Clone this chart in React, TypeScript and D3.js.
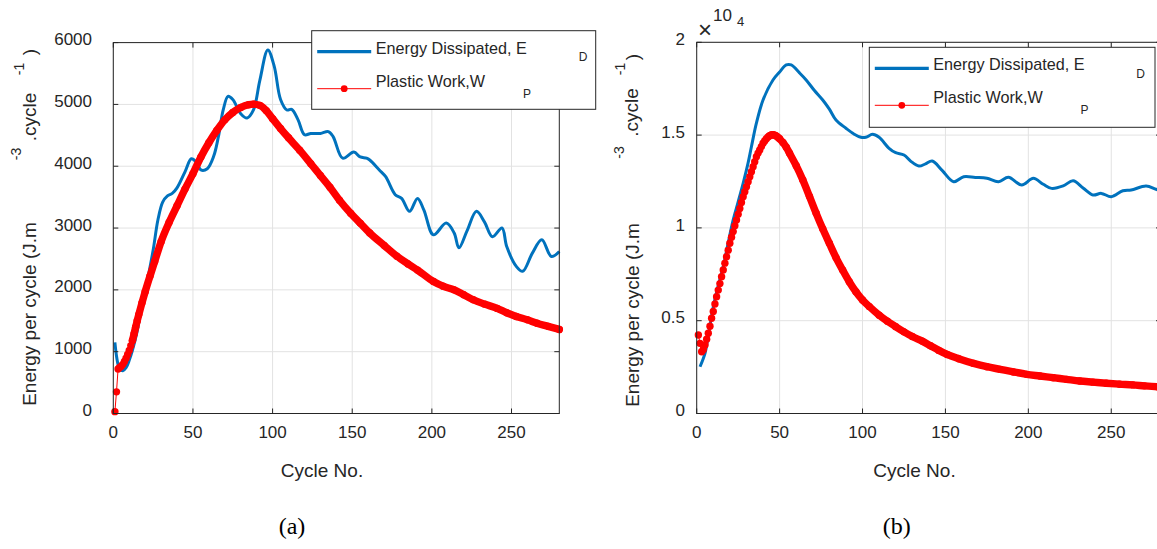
import React from "react";
import * as d3 from "d3";

type Pt = [number, number];

// ---------- data ----------
const cycleTicks = [0, 50, 100, 150, 200, 250];
const yTicksA = [0, 1000, 2000, 3000, 4000, 5000, 6000];
const yTickLabelsA = ["0", "1000", "2000", "3000", "4000", "5000", "6000"];
const yTicksB = [0, 5000, 10000, 15000, 20000];
const yTickLabelsB = ["0", "0.5", "1", "1.5", "2"];

const energyA: Pt[] = [
  [1, 1150], [2, 930], [3, 790], [4, 720], [6, 690], [8, 740], [10, 860], [12, 1020],
  [15, 1330], [17, 1620], [21, 2100], [25, 2640], [28, 3130], [31, 3420], [34, 3520],
  [37, 3560], [40, 3650], [45, 3910], [49, 4120], [52, 4070], [55, 3940], [59, 3960],
  [63, 4160], [66, 4480], [69, 4910], [72, 5130], [75, 5080], [80, 4850], [84, 4780],
  [88, 4910], [92, 5390], [97, 5880], [101, 5620], [105, 5080], [109, 4910], [112, 4920],
  [116, 4750], [120, 4510], [124, 4530], [130, 4530], [135, 4560], [138, 4480],
  [144, 4130], [151, 4230], [155, 4150], [159, 4130], [161, 4100], [167, 3940],
  [171, 3830], [177, 3540], [181, 3480], [186, 3270], [191, 3480], [195, 3290],
  [201, 2890], [209, 3080], [214, 2920], [217, 2680], [222, 2950], [228, 3270], [233, 3100],
  [238, 2860], [244, 3000], [247, 2700], [253, 2380], [257, 2300], [263, 2590],
  [269, 2810], [275, 2540], [280, 2620],
];

const plasticA: Pt[] = [
  [1, 30], [2, 350], [3, 720], [4, 745], [5, 765], [6, 795], [7, 840], [8, 895], [9, 955],
  [10, 1020], [11, 1095], [12, 1180], [13, 1285], [14, 1395], [15, 1500], [16, 1600],
  [18, 1790], [20, 1970], [23, 2220], [26, 2460], [30, 2780], [35, 3090], [40, 3360],
  [45, 3630], [50, 3880], [55, 4150], [60, 4380], [65, 4580], [70, 4750], [75, 4870],
  [80, 4950], [85, 4995], [88, 5005], [92, 4985], [96, 4900], [100, 4770], [105, 4610],
  [110, 4460], [117, 4260], [124, 4040], [130, 3850], [136, 3660], [142, 3450],
  [149, 3240], [155, 3080], [161, 2920], [170, 2720], [178, 2545], [185, 2420],
  [191, 2320], [201, 2135], [207, 2060], [214, 2000], [220, 1920], [226, 1840],
  [233, 1770], [241, 1700], [247, 1630], [253, 1570], [260, 1515], [266, 1460],
  [273, 1410], [280, 1360],
];

const energyB: Pt[] = [
  [2, 2520], [5, 3240], [7, 4200], [10, 5750], [13, 6900], [16, 7910], [19, 9200],
  [22, 10430], [25, 11400], [28, 12400], [31, 13500], [33, 14370], [36, 15640],
  [40, 16890], [46, 17970], [50, 18400], [54, 18780], [57, 18780], [62, 18350],
  [66, 17970], [71, 17400], [76, 16890], [80, 16400], [84, 15810], [90, 15370],
  [95, 15050], [99, 14880], [102, 14880], [106, 15040], [110, 14880], [116, 14290],
  [120, 14050], [125, 13930], [129, 13600], [134, 13330], [138, 13450], [142, 13600],
  [148, 13100], [155, 12490], [161, 12760], [168, 12720], [175, 12670], [182, 12490],
  [188, 12730], [196, 12310], [203, 12670], [209, 12350], [214, 12130], [221, 12260],
  [227, 12540], [233, 12150], [239, 11770], [244, 11860], [250, 11680], [257, 12000],
  [262, 12040], [271, 12260], [277, 12080], [280, 12000],
];

const plasticB: Pt[] = [
  [1, 4230], [2, 3780], [3, 3330], [4, 3450], [5, 3690], [6, 4000], [7, 4320], [8, 4700],
  [9, 5130], [10, 5500], [11, 5900], [12, 6290], [13, 6650], [14, 7000], [15, 7370],
  [16, 7730], [17, 8100], [18, 8450], [19, 8800], [20, 9170], [21, 9500], [22, 9800],
  [23, 10120], [24, 10430], [25, 10740], [26, 11050], [27, 11370], [28, 11680],
  [29, 11950], [30, 12220], [31, 12490], [32, 12760], [33, 13030], [34, 13300],
  [35, 13570], [36, 13840], [37, 14030], [38, 14200], [39, 14380], [40, 14560],
  [41, 14680], [42, 14800], [43, 14900], [44, 14970], [45, 15010], [46, 15020],
  [47, 15000], [48, 14950], [49, 14880], [50, 14800], [52, 14600], [54, 14350],
  [56, 14020], [60, 13350], [64, 12580], [68, 11700], [72, 10800], [76, 9950],
  [80, 9170], [84, 8400], [88, 7730], [92, 7100], [96, 6560], [100, 6120], [104, 5770],
  [110, 5300], [115, 4970], [120, 4680], [125, 4400], [130, 4150], [136, 3900],
  [141, 3650], [146, 3400], [151, 3180], [158, 2950], [167, 2700], [175, 2520],
  [183, 2380], [191, 2240], [199, 2110], [207, 2020], [215, 1930], [223, 1840],
  [231, 1750], [239, 1690], [247, 1630], [255, 1580], [263, 1540], [270, 1490],
  [278, 1440], [280, 1430],
];

const legendLabels = ["Energy Dissipated, E", "D", "Plastic Work,W", "P"];
const xLabel = "Cycle No.";
const yLabelParts = ["Energy per cycle (J.m", "-3", ".cycle", "-1", ")"];

// ---------- styles ----------
const BLUE = "#0072BD";
const RED = "#FF0000";
const AXIS = "#262626";
const GRID = "#e2e2e2";
const SANS = "'Liberation Sans', Arial, Helvetica, sans-serif";
const SERIF = "'Liberation Serif', 'Times New Roman', serif";

type Geo = {
  left: number; right: number; top: number; bottom: number;
  yMax: number; yTicks: number[]; yTickLabels: string[]; yLabelEdge: number;
  bandFrom: number;
  legend: { x: number; y: number; w: number; h: number };
  ylab: { main: Pt; sup3: Pt; cyc: Pt; sup1: Pt; par: Pt };
  xlabX: number; caption: string; captionX: number;
};

function RotText({ at, size, children }: { at: Pt; size: number; children: React.ReactNode }) {
  return (
    <text transform={`translate(${at[0]},${at[1]}) rotate(-90)`} textAnchor="middle"
      fontSize={size} fontFamily={SANS} fill={AXIS}>{children}</text>
  );
}

function Panel({ g, energy, plastic, exponent }: { g: Geo; energy: Pt[]; plastic: Pt[]; exponent?: boolean }) {
  const x = d3.scaleLinear().domain([0, 280]).range([g.left, g.right]);
  const y = d3.scaleLinear().domain([0, g.yMax]).range([g.bottom, g.top]);
  const blueLine = d3.line<Pt>().x(d => x(d[0])).y(d => y(d[1])).curve(d3.curveCatmullRom.alpha(0.5));
  const redBand = d3.line<Pt>().x(d => x(d[0])).y(d => y(d[1])).curve(d3.curveMonotoneX);
  const redThin = d3.line<Pt>().x(d => x(d[0])).y(d => y(d[1]));
  const tl = 5;
  const L = g.legend;
  return (
    <g>
      {/* grid */}
      {cycleTicks.map(t => (
        <line key={"gx" + t} x1={x(t)} x2={x(t)} y1={g.top} y2={g.bottom} stroke={GRID} strokeWidth={1} />
      ))}
      {g.yTicks.map(t => (
        <line key={"gy" + t} x1={g.left} x2={g.right} y1={y(t)} y2={y(t)} stroke={GRID} strokeWidth={1} />
      ))}
      {/* series */}
      <path d={blueLine(energy) || ""} fill="none" stroke={BLUE} strokeWidth={3} strokeLinejoin="round" />
      <path d={redThin(plastic) || ""} fill="none" stroke={RED} strokeWidth={1} />
      <path d={redBand(plastic.filter(d => d[0] >= g.bandFrom)) || ""} fill="none" stroke={RED} strokeWidth={7.4}
        strokeLinejoin="round" strokeLinecap="round" />
      {plastic.map((d, i) => (
        <circle key={"m" + i} cx={x(d[0])} cy={y(d[1])} r={3.7} fill={RED} />
      ))}
      {/* axes box */}
      <rect x={g.left} y={g.top} width={g.right - g.left} height={g.bottom - g.top} fill="none" stroke={AXIS} strokeWidth={1} />
      {cycleTicks.map(t => (
        <g key={"tx" + t}>
          <line x1={x(t)} x2={x(t)} y1={g.bottom} y2={g.bottom - tl} stroke={AXIS} />
          <line x1={x(t)} x2={x(t)} y1={g.top} y2={g.top + tl} stroke={AXIS} />
          <text x={x(t)} y={g.bottom + 24.5} textAnchor="middle" fontSize={17} fontFamily={SANS} fill={AXIS}>{t}</text>
        </g>
      ))}
      {g.yTicks.map((t, i) => (
        <g key={"ty" + t}>
          <line x1={g.left} x2={g.left + tl} y1={y(t)} y2={y(t)} stroke={AXIS} />
          <line x1={g.right} x2={g.right - tl} y1={y(t)} y2={y(t)} stroke={AXIS} />
          <text x={g.yLabelEdge} y={y(t) + 2.6} textAnchor="end" fontSize={17} fontFamily={SANS} fill={AXIS}>{g.yTickLabels[i]}</text>
        </g>
      ))}
      {exponent && (
        <g fontFamily={SANS} fill={AXIS}>
          <text x={698} y={38} fontSize={24}>×</text>
          <text x={713} y={21} fontSize={17}>10</text>
          <text x={737} y={26} fontSize={13}>4</text>
        </g>
      )}
      {/* axis labels */}
      <text x={g.xlabX} y={476.5} textAnchor="middle" fontSize={19} fontFamily={SANS} fill={AXIS}>{xLabel}</text>
      <RotText at={g.ylab.main} size={19}>{yLabelParts[0]}</RotText>
      <RotText at={g.ylab.sup3} size={14}>{yLabelParts[1]}</RotText>
      <RotText at={g.ylab.cyc} size={19}>{yLabelParts[2]}</RotText>
      <RotText at={g.ylab.sup1} size={14}>{yLabelParts[3]}</RotText>
      <RotText at={g.ylab.par} size={19}>{yLabelParts[4]}</RotText>
      {/* legend */}
      <g>
        <rect x={L.x} y={L.y} width={L.w} height={L.h} fill="#fff" stroke={AXIS} strokeWidth={1} />
        <line x1={L.x + 5.5} x2={L.x + 59.5} y1={L.y + 21} y2={L.y + 21} stroke={BLUE} strokeWidth={3.2} />
        <text x={L.x + 64} y={L.y + 23} fontSize={16.2} fontFamily={SANS} fill={AXIS}>{legendLabels[0]}</text>
        <text x={L.x + 267} y={L.y + 30.7} fontSize={12} fontFamily={SANS} fill={AXIS}>{legendLabels[1]}</text>
        <line x1={L.x + 5.5} x2={L.x + 59.5} y1={L.y + 58} y2={L.y + 58} stroke={RED} strokeWidth={1} />
        <circle cx={L.x + 32.5} cy={L.y + 58} r={3.4} fill={RED} />
        <text x={L.x + 64} y={L.y + 56} fontSize={16.2} fontFamily={SANS} fill={AXIS}>{legendLabels[2]}</text>
        <text x={L.x + 211.3} y={L.y + 66.8} fontSize={12} fontFamily={SANS} fill={AXIS}>{legendLabels[3]}</text>
      </g>
      <text x={g.captionX} y={534} textAnchor="middle" fontSize={24} fontFamily={SERIF} fill="#000">{g.caption}</text>
    </g>
  );
}

const geoA: Geo = {
  left: 113.3, right: 559.3, top: 42.6, bottom: 413.5,
  yMax: 6000, yTicks: yTicksA, yTickLabels: yTickLabelsA, yLabelEdge: 92,
  bandFrom: 12,
  legend: { x: 311.7, y: 30.7, w: 284, h: 78.6 },
  ylab: { main: [36, 314], sup3: [21, 154], cyc: [35.5, 117], sup1: [24, 69], par: [36, 52] },
  xlabX: 322, caption: "(a)", captionX: 292,
};

const geoB: Geo = {
  left: 696.7, right: 1161, top: 42.3, bottom: 413.5,
  yMax: 20000, yTicks: yTicksB, yTickLabels: yTickLabelsB, yLabelEdge: 685,
  bandFrom: 44,
  legend: { x: 869.3, y: 47.3, w: 285.7, h: 80 },
  ylab: { main: [639, 315], sup3: [624, 152.5], cyc: [638, 112.5], sup1: [625, 69], par: [639, 57] },
  xlabX: 914.5, caption: "(b)", captionX: 896.7,
};

export default function App() {
  return (
    <svg width={1157} height={549} viewBox="0 0 1157 549"
      style={{ position: "absolute", left: 0, top: 0, background: "#fff", display: "block" }}>
      <rect x={0} y={0} width={1157} height={549} fill="#fff" />
      <Panel g={geoA} energy={energyA} plastic={plasticA} />
      <Panel g={geoB} energy={energyB} plastic={plasticB} exponent />
    </svg>
  );
}
